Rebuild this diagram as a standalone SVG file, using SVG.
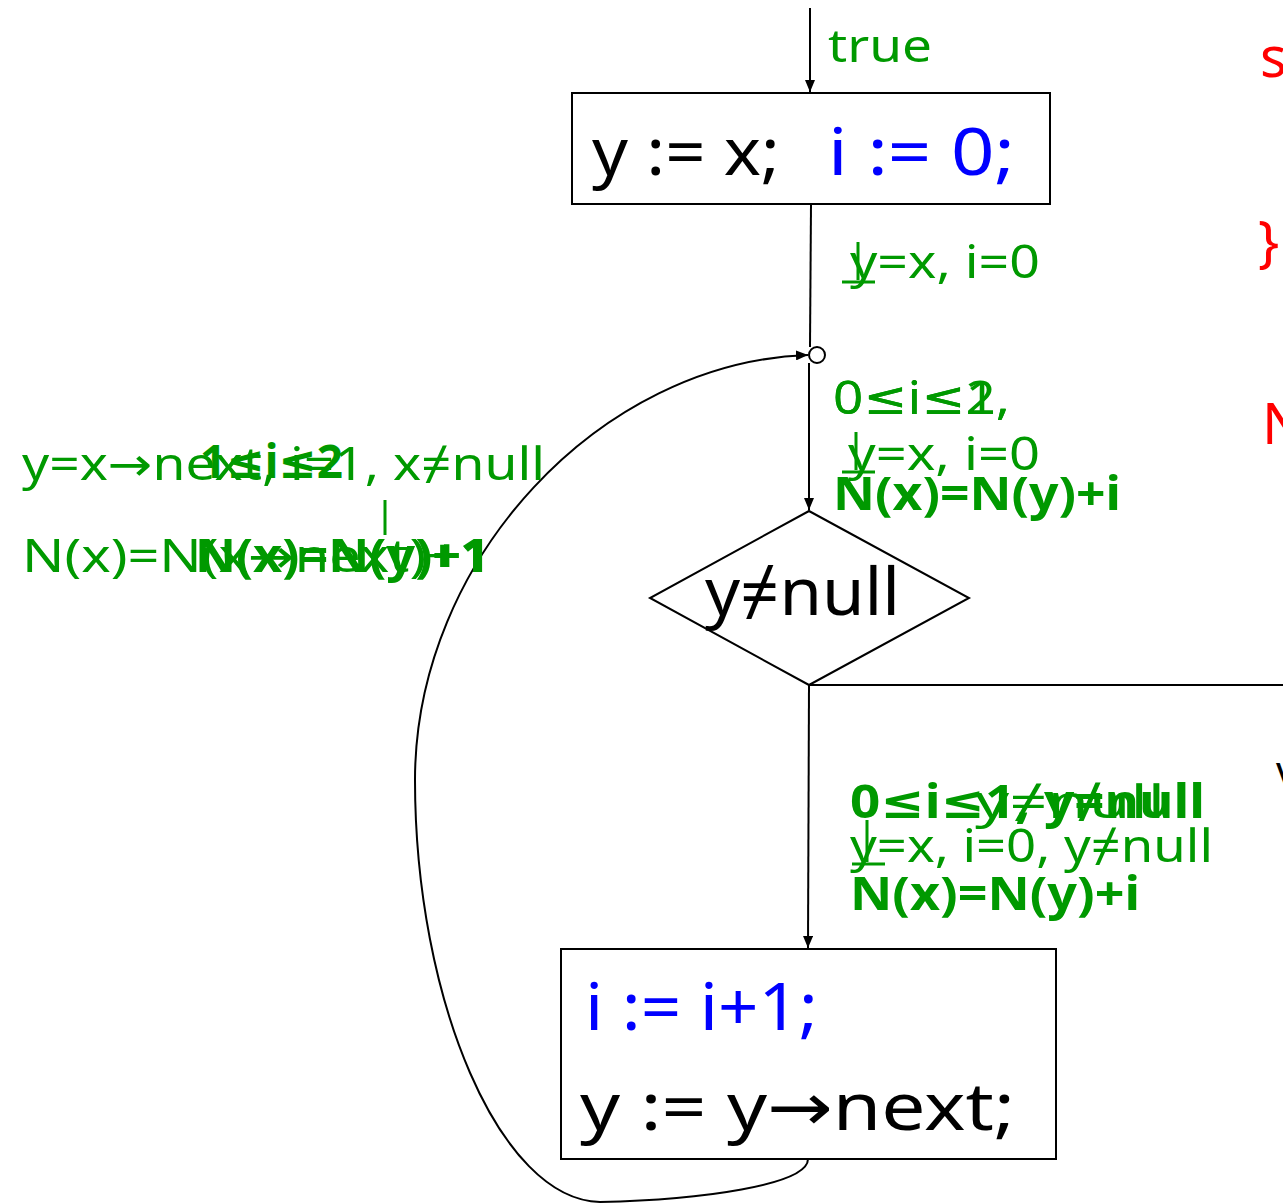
<svg xmlns="http://www.w3.org/2000/svg" width="1283" height="1204" viewBox="0 0 1283 1204">
<defs>
<style>
.t{font-family:"Noto Sans","DejaVu Sans",sans-serif}
.g{fill:#009900}
.gb{fill:#009900;font-weight:bold}
.k{fill:#000}
.b{fill:#0000ff}
.r{fill:#ff0000}
.box{fill:#fff;stroke:#000;stroke-width:2}
.ln{fill:none;stroke:#000;stroke-width:2}
.gs{stroke:#009900;stroke-width:3;fill:none}
</style>
<marker id="ah" markerWidth="12" markerHeight="10" refX="12" refY="5" orient="auto" markerUnits="userSpaceOnUse">
<path d="M0,0 L12,5 L0,10 Z" fill="#000"/>
</marker>
</defs>
<rect width="1283" height="1204" fill="#fff"/>
<g id="connectors">
<line class="ln" x1="810" y1="8" x2="810" y2="92" marker-end="url(#ah)"/>
<line class="ln" x1="811" y1="204" x2="810" y2="347"/>
<circle cx="817" cy="355" r="8" fill="#fff" stroke="#000" stroke-width="2"/>
<line class="ln" x1="809" y1="363" x2="809" y2="510" marker-end="url(#ah)"/>
<line class="ln" x1="809" y1="685" x2="808" y2="948" marker-end="url(#ah)"/>
<line class="ln" x1="809" y1="685" x2="1283" y2="685"/>
<path class="ln" d="M808,1159 C808,1185 700,1200 600,1202 C500,1200 415,1000 415,780 C415,560 600,362 808,355" marker-end="url(#ah)"/>
</g>
<g id="n1">
<rect class="box" x="572" y="93" width="478" height="111"/>
<text class="t k" font-size="66" x="592" y="175" textLength="188" lengthAdjust="spacingAndGlyphs">y := x;</text>
<text class="t b" font-size="66" x="828" y="175" textLength="187" lengthAdjust="spacingAndGlyphs">i := 0;</text>
</g>
<g id="n2">
<polygon class="box" points="809,511 969,598 809,685 650,598"/>
<text class="t k" font-size="66" x="705" y="615" textLength="195" lengthAdjust="spacingAndGlyphs">y≠null</text>
</g>
<g id="n3">
<rect class="box" x="561" y="949" width="495" height="210"/>
<text class="t b" font-size="66" x="585" y="1030" textLength="233" lengthAdjust="spacingAndGlyphs">i := i+1;</text>
<text class="t k" font-size="66" x="580" y="1130" textLength="435" lengthAdjust="spacingAndGlyphs">y := y→next;</text>
</g>
<g id="labels">
<text class="t g" font-size="46" x="828" y="62" textLength="104" lengthAdjust="spacingAndGlyphs">true</text>
<text class="t g" font-size="46" x="850" y="278" textLength="190" lengthAdjust="spacingAndGlyphs">y=x, i=0</text>
<path class="gs" d="M858,242 V280 M842,282 H875"/>
<text class="t g" font-size="46" x="833" y="414" textLength="177" lengthAdjust="spacingAndGlyphs">0≤i≤2,</text>
<text class="t g" font-size="46" x="833" y="414" textLength="177" lengthAdjust="spacingAndGlyphs">0≤i≤1,</text>
<text class="t g" font-size="46" x="848" y="470" textLength="192" lengthAdjust="spacingAndGlyphs">y=x, i=0</text>
<path class="gs" d="M856,432 V470 M842,472 H875"/>
<text class="t gb" font-size="46" x="833" y="510" textLength="288" lengthAdjust="spacingAndGlyphs">N(x)=N(y)+i</text>
<text class="t g" font-size="46" x="22" y="480" textLength="523" lengthAdjust="spacingAndGlyphs">y=x→next, i=1, x≠null</text>
<text class="t gb" font-size="46" x="200" y="478" textLength="143" lengthAdjust="spacingAndGlyphs">1≤i≤2</text>
<text class="t g" font-size="46" x="22" y="572" textLength="468" lengthAdjust="spacingAndGlyphs">N(x)=N(x→next)+1</text>
<text class="t gb" font-size="46" x="195" y="572" textLength="295" lengthAdjust="spacingAndGlyphs">N(x)=N(y)+1</text>
<path class="gs" d="M385,500 V535"/>
<text class="t gb" font-size="46" x="850" y="818" textLength="355" lengthAdjust="spacingAndGlyphs">0≤i≤1, y≠null</text>
<text class="t g" font-size="46" x="975" y="818" textLength="190" lengthAdjust="spacingAndGlyphs">y≠null</text>
<text class="t g" font-size="46" x="850" y="862" textLength="363" lengthAdjust="spacingAndGlyphs">y=x, i=0, y≠null</text>
<path class="gs" d="M867,820 V862 M852,864 H885"/>
<text class="t gb" font-size="46" x="850" y="910" textLength="290" lengthAdjust="spacingAndGlyphs">N(x)=N(y)+i</text>
<text class="t r" font-size="56" x="1260" y="77">s</text>
<text class="t r" font-size="56" x="1258" y="262">}</text>
<text class="t r" font-size="56" x="1262" y="444">N</text>
<text class="t k" font-size="40" x="1276" y="785">v</text>
</g>
</svg>
